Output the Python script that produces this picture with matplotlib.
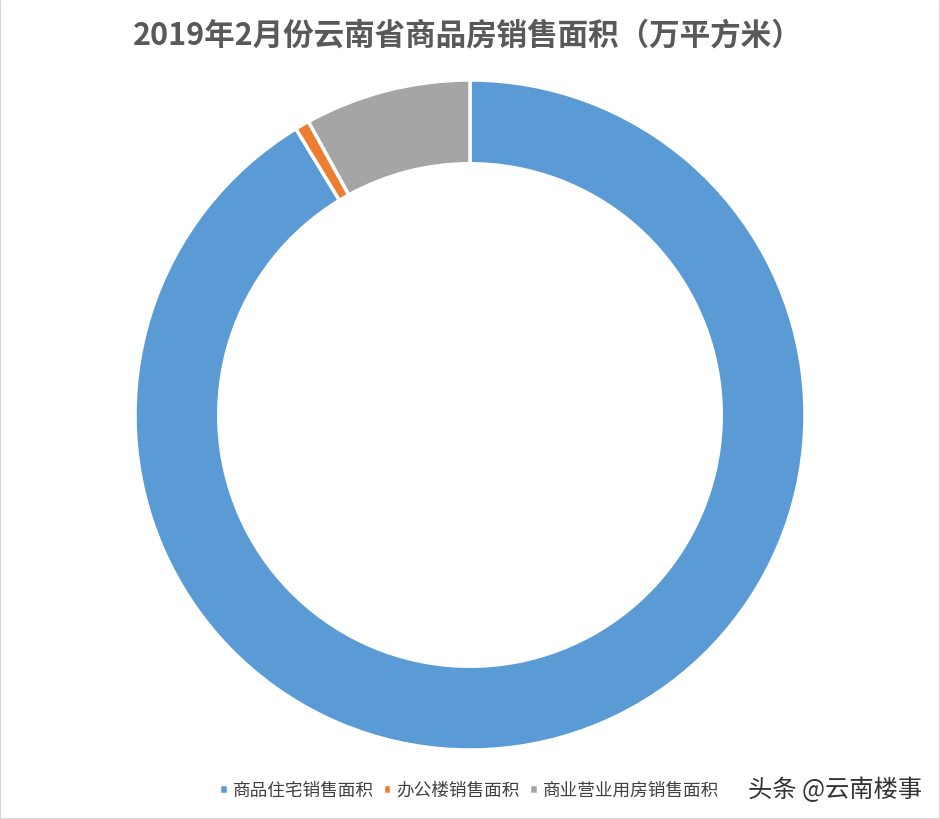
import matplotlib
matplotlib.use("Agg")
import matplotlib.pyplot as plt
from matplotlib.patches import Rectangle

plt.rcParams['font.family'] = ['Noto Sans CJK SC', 'DejaVu Sans']

title = "2019年2月份云南省商品房销售面积（万平方米）"
categories = ["商品住宅销售面积", "办公楼销售面积", "商业营业用房销售面积"]
values = [265.6, 2.0, 23.3]
colors = ["#5B9BD5", "#ED7D31", "#A5A5A5"]
watermark = "头条 @云南楼事"

W, H = 940, 820
fig = plt.figure(figsize=(W / 100, H / 100), dpi=100)
fig.patch.set_facecolor("white")

cx, cy, R = 470, 416, 335
ax = fig.add_axes([(cx - R) / W, (H - cy - R) / H, 2 * R / W, 2 * R / H])
wedges, _ = ax.pie(values, colors=colors, startangle=90, counterclock=False,
                   radius=1.0,
                   wedgeprops=dict(width=0.25, edgecolor="white", linewidth=2.5))
ax.set_xlim(-1, 1)
ax.set_ylim(-1, 1)
ax.set_aspect("equal")
ax.axis("off")

fig.text(468 / W, 1 - 36 / H, title, ha="center", va="center",
         fontsize=22, fontweight="bold", color="#595959")

leg = fig.legend(wedges, categories, loc="center", bbox_to_anchor=(469 / W, 1 - 791 / H),
                 ncol=3, frameon=False, fontsize=12.7, handlelength=0.5, handleheight=0.5,
                 handletextpad=0.3, columnspacing=0.5, labelcolor="#404040")

fig.text(835 / W, 1 - 790 / H, watermark, ha="center", va="center",
         fontsize=17.5, color="#333333")

fig.patches.append(Rectangle((0, 0), 1, 1, transform=fig.transFigure, fill=False,
                             edgecolor="#D9D9D9", linewidth=1.5))

fig.savefig("out.png", dpi=100, facecolor="white")
